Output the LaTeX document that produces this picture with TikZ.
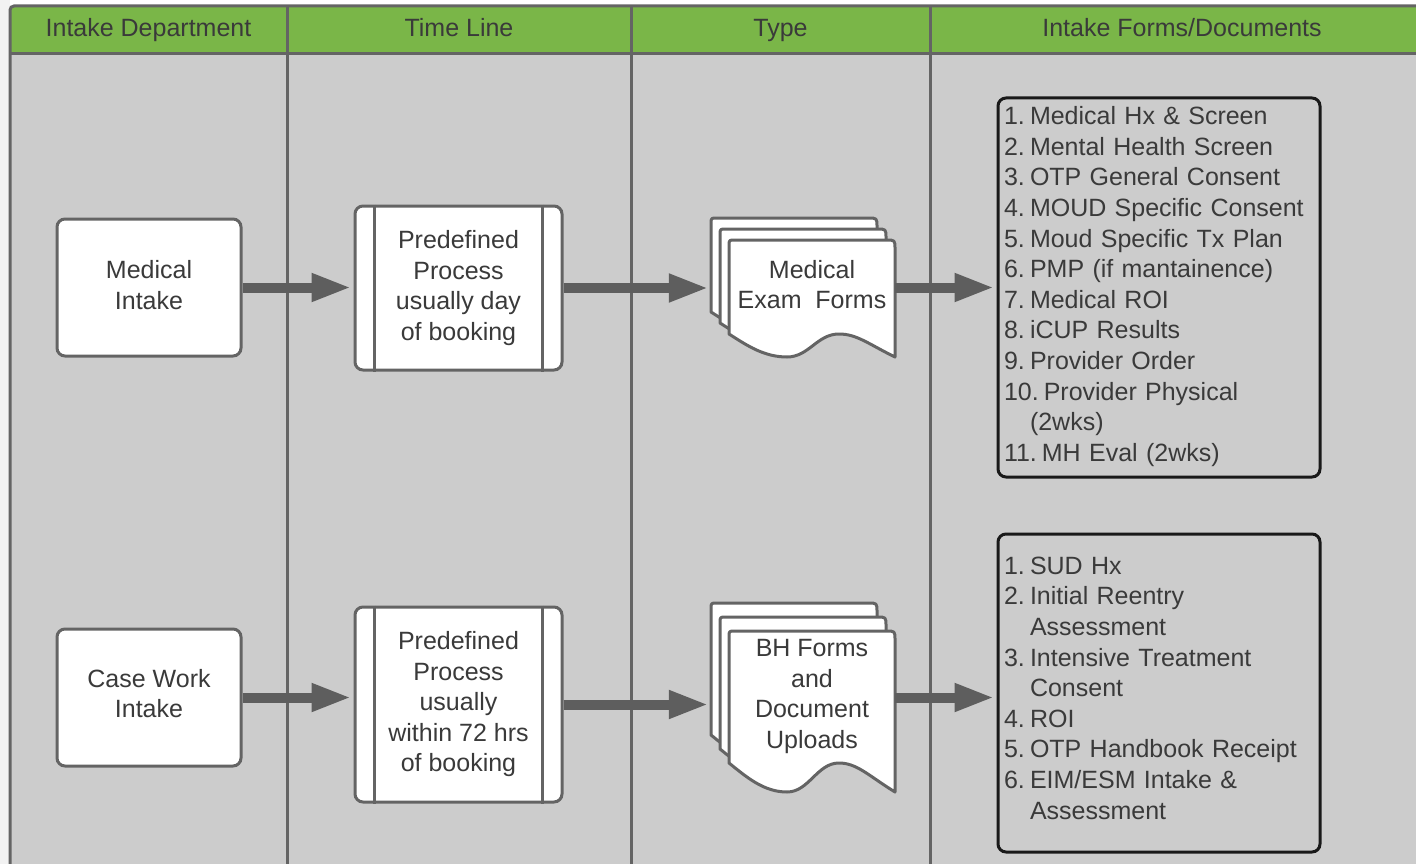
\documentclass[tikz,border=0pt]{standalone}
\usepackage{fontspec}
\setmainfont{Liberation Sans}
\usetikzlibrary{arrows.meta}
\definecolor{lanegray}{HTML}{CCCCCC}
\definecolor{hdrgreen}{HTML}{7AB648}
\definecolor{linegray}{HTML}{646464}
\definecolor{txt}{HTML}{3A3A3A}
\definecolor{arrowgray}{HTML}{5E5E5E}
\definecolor{edge}{HTML}{F2F2F2}
\newcommand\docsheet[5]{% x y w H A
  \draw[sheet] (#1,#2+#4-#5) -- (#1,#2+6) .. controls (#1,#2) .. (#1+6,#2)
    -- (#1+#3-9,#2) .. controls (#1+#3,#2) .. (#1+#3,#2+9)
    -- (#1+#3,#2+#4)
    .. controls (#1+140,#2+#4-#5*0.55) and (#1+128,#2+#4-#5) .. (#1+110,#2+#4-#5)
    .. controls (#1+88,#2+#4-#5) and (#1+80,#2+#4) .. (#1+58,#2+#4)
    .. controls (#1+35,#2+#4) and (#1+18,#2+#4-#5*0.5) .. cycle;
}
\begin{document}
\begin{tikzpicture}[x=1pt,y=-1pt,
  lbl/.style={font=\fontsize{25}{30.5}\selectfont, text=txt, align=center, inner sep=0pt},
  box/.style={draw=linegray, line width=3pt, fill=white, rounded corners=8pt},
  sheet/.style={draw=linegray, line width=3pt, fill=white, line join=round},
  flow/.style={draw=arrowgray, line width=10pt, -{Triangle[length=40pt,width=26pt]}, shorten >=2pt},
  lane/.style={draw=linegray, line width=3pt},
  listbox/.style={draw=black!90, line width=3pt, rounded corners=8pt, minimum width=322pt, inner sep=0pt},
  listtext/.style={text width=310pt, align=left, inner sep=0pt, font=\fontsize{25}{30.6}\selectfont, text=txt},
  ]
\useasboundingbox (0,0) rectangle (1416,864);
\clip (0,0) rectangle (1416,864);
\fill[white] (0,0) rectangle (1416,864);
\fill[edge] (0,0) rectangle (10,864);
% lanes
\fill[lanegray] (10,6) rectangle (1440,880);
\fill[hdrgreen, rounded corners=4pt] (10,54) -- (10,6) -- (1440,6) -- (1440,54) -- cycle;
\draw[lane, rounded corners=4pt] (10,880) -- (10,6) -- (1440,6);
\draw[lane] (10,54) -- (1440,54);
\draw[lane] (287,6) -- (287,880);
\draw[lane] (631,6) -- (631,880);
\draw[lane] (930,6) -- (930,880);
\node[lbl, anchor=base] (h1) at (148.5,37) {Intake Department};
\node[lbl, anchor=base] (h2) at (459,37) {Time Line};
\node[lbl, anchor=base] (h3) at (780.5,37) {Type};
\node[lbl, anchor=base] (h4) at (1182,37) {Intake Forms/Documents};
% intake boxes
\node[box, minimum width=184pt, minimum height=137pt] (mi) at (149,287.5) {};
\node[lbl] (mit) at (149,285) {Medical\\Intake};
\node[box, minimum width=184pt, minimum height=137pt] (cw) at (149,697.5) {};
\node[lbl] (cwt) at (149,693.5) {Case Work\\Intake};
% predefined processes
\node[box, lbl, minimum width=207pt, minimum height=164pt] (pp1) at (458.5,288) {Predefined\\Process\\usually day\\of booking};
\node[box, lbl, minimum width=207pt, minimum height=195pt] (pp2) at (458.5,704.5) {Predefined\\Process\\usually\\within 72 hrs\\of booking};
\foreach \p in {pp1,pp2}{
  \draw[linegray, line width=3pt] ([xshift=21pt]\p.north west) -- ([xshift=21pt]\p.south west);
  \draw[linegray, line width=3pt] ([xshift=-21pt]\p.north east) -- ([xshift=-21pt]\p.south east);
}
% multi-documents
\docsheet{711}{218}{166}{117}{23}
\docsheet{720}{229}{166}{117}{23}
\docsheet{729}{240}{166}{117}{23}
\node[lbl] (d1t) at (812,284.5) {Medical\\Exam\ \ Forms};
\path node[minimum width=184pt, minimum height=139pt, inner sep=0pt] (docA) at (803,287.5) {};
\docsheet{711}{603}{166}{161}{29}
\docsheet{720}{617}{166}{161}{29}
\docsheet{729}{631}{166}{161}{29}
\node[lbl] (d2t) at (812,696.5) {BH Forms\\and\\Document\\Uploads};
\path node[minimum width=184pt, minimum height=189pt, inner sep=0pt] (docB) at (803,697.5) {};
% lists
\node[listbox, minimum height=379pt] (la) at (1159,287.5) {};
\node[listtext] (lat) at (1159,286.5) {%
\makebox[26pt][l]{1.}Medical Hx \& Screen\\
\makebox[26pt][l]{2.}Mental Health Screen\\
\makebox[26pt][l]{3.}OTP General Consent\\
\makebox[26pt][l]{4.}MOUD Specific Consent\\
\makebox[26pt][l]{5.}Moud Specific Tx Plan\\
\makebox[26pt][l]{6.}PMP (if mantainence)\\
\makebox[26pt][l]{7.}Medical ROI\\
\makebox[26pt][l]{8.}iCUP Results\\
\makebox[26pt][l]{9.}Provider Order\\
10.\hspace{5pt}Provider Physical\\
\hspace*{26pt}(2wks)\\
11.\hspace{5pt}MH Eval (2wks)};
\node[listbox, minimum height=318pt] (lb) at (1159,693) {};
\node[listtext] (lbt) at (1159,688) {%
\makebox[26pt][l]{1.}SUD Hx\\
\makebox[26pt][l]{2.}Initial Reentry\\
\hspace*{26pt}Assessment\\
\makebox[26pt][l]{3.}Intensive Treatment\\
\hspace*{26pt}Consent\\
\makebox[26pt][l]{4.}ROI\\
\makebox[26pt][l]{5.}OTP Handbook Receipt\\
\makebox[26pt][l]{6.}EIM/ESM Intake \&\\
\hspace*{26pt}Assessment};
% arrows
\draw[flow] (mi.east) -- (mi.east -| pp1.west);
\draw[flow] (pp1.east) -- (pp1.east -| docA.west);
\draw[flow] (docA.east) -- (docA.east -| la.west);
\draw[flow] (cw.east) -- (cw.east -| pp2.west);
\draw[flow] (pp2.east) -- (pp2.east -| docB.west);
\draw[flow] (docB.east) -- (docB.east -| lb.west);
\end{tikzpicture}
\end{document}
